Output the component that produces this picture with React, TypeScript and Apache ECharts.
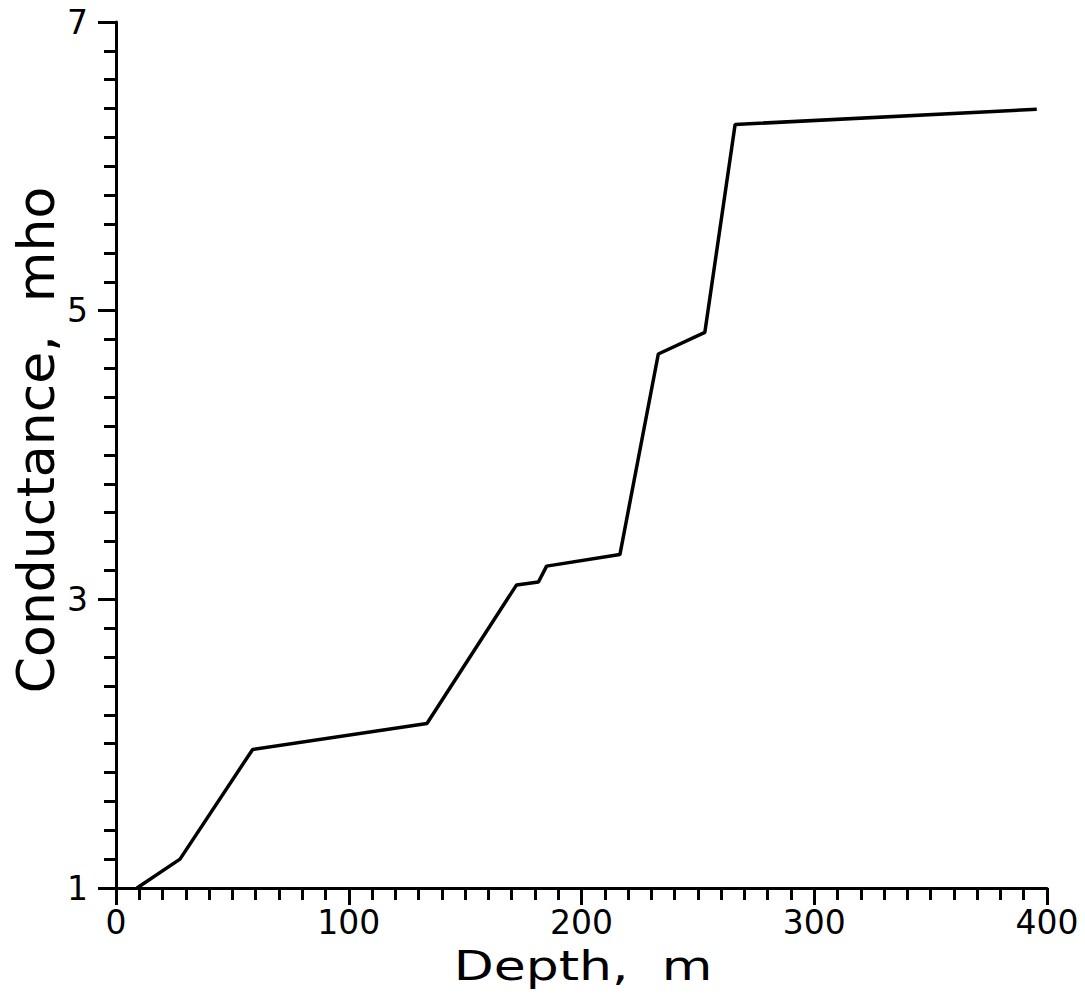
import React, { useEffect, useRef } from "react";
import * as echarts from "echarts";

const depth: number[] = [9, 27.5, 58.7, 133.6, 172.1, 181.5, 185, 216.5, 233, 253, 266, 395.6];
const conductance: number[] = [1.0, 1.2, 1.96, 2.14, 3.1, 3.12, 3.23, 3.31, 4.7, 4.85, 6.29, 6.395];
const xTitle = "Depth,  m";
const yTitle = "Conductance,  mho";

const FONT = "DejaVu Sans";

export default function App() {
  const ref = useRef<HTMLDivElement>(null);
  useEffect(() => {
    if (!ref.current) return;
    const chart = echarts.init(ref.current, null, { renderer: "svg" });
    const data = depth.map((d, i) => [d, conductance[i]]);
    chart.setOption({
      animation: false,
      backgroundColor: "#ffffff",
      grid: { left: 116, right: 38, top: 22, bottom: 112, containLabel: false },
      xAxis: {
        type: "value",
        min: 0,
        max: 400,
        interval: 100,
        axisLine: { show: true, onZero: false, lineStyle: { color: "#000", width: 3 } },
        axisTick: { show: true, inside: false, length: 17, lineStyle: { color: "#000", width: 3 } },
        minorTick: { show: true, splitNumber: 10, length: 12, lineStyle: { color: "#000", width: 3 } },
        splitLine: { show: false },
        axisLabel: { color: "#000", fontFamily: FONT, fontSize: 33, margin: 18 },
      },
      yAxis: {
        type: "value",
        min: 1,
        max: 7,
        interval: 2,
        axisLine: { show: true, onZero: false, lineStyle: { color: "#000", width: 3 } },
        axisTick: { show: true, inside: false, length: 18, lineStyle: { color: "#000", width: 3 } },
        minorTick: { show: true, splitNumber: 10, length: 12, lineStyle: { color: "#000", width: 3 } },
        splitLine: { show: false },
        axisLabel: { color: "#000", fontFamily: FONT, fontSize: 33, margin: 28 },
      },
      graphic: [
        {
          type: "text",
          x: 583,
          y: 966,
          scaleX: 1.3,
          style: {
            text: xTitle,
            fontFamily: FONT,
            fontSize: 40,
            fill: "#000",
            textAlign: "center",
            textVerticalAlign: "middle",
          },
        },
        {
          type: "text",
          x: 36,
          y: 440,
          rotation: Math.PI / 2,
          style: {
            text: yTitle,
            fontFamily: FONT,
            fontSize: 52,
            fill: "#000",
            textAlign: "center",
            textVerticalAlign: "middle",
          },
        },
      ],
      series: [
        {
          type: "line",
          data,
          showSymbol: false,
          symbol: "none",
          clip: true,
          lineStyle: { color: "#000", width: 3.5 },
        },
      ],
    });
    return () => chart.dispose();
  }, []);
  return (
    <div
      ref={ref}
      style={{ position: "absolute", left: 0, top: 0, width: 1085, height: 1000, background: "#fff" }}
    />
  );
}
